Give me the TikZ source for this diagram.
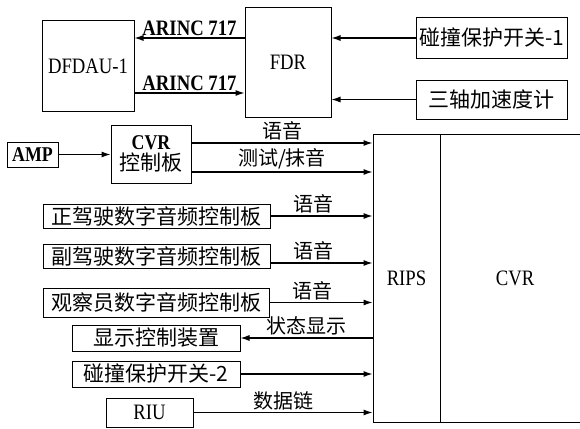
\documentclass[tikz,border=0pt]{standalone}
\usepackage{fontspec}
\setmainfont{Liberation Serif}[FakeStretch=0.85]
\newfontfamily\cjk{Noto Sans CJK SC}
\usetikzlibrary{arrows.meta,positioning}

\begin{document}
\begin{tikzpicture}[x=1pt, y=-1pt,
  box/.style={rectangle, draw, line width=1pt, inner sep=0pt, align=center, font=\fontsize{22}{23}\selectfont},
  cbox/.style={box, font=\cjk\fontsize{21}{23}\selectfont},
  arr/.style={-{Latex[length=9pt,width=6pt]}, line width=1.1pt},
  lbl/.style={font=\cjk\fontsize{20}{22}\selectfont, inner sep=1pt},
  alab/.style={font=\bfseries\fontsize{22}{23}\selectfont, inner sep=1pt},
]
\useasboundingbox (0,0) rectangle (580,428);

% Top part: FDR and its sources
\node[box, minimum width=92pt, minimum height=90pt] (dfdau) at (88,66) {DFDAU-1};
\node[box, minimum width=86pt, minimum height=109pt] (fdr) at (288,62.5) {FDR};
\node[cbox, minimum width=151pt, minimum height=40pt] (crash1) at (491.5,38) {碰撞保护开关-1};
\node[cbox, minimum width=151pt, minimum height=39pt] (accel) at (491.5,99.5) {三轴加速度计};

% Recorder
\node[box, minimum width=67pt, minimum height=288pt] (rips) at (406.5,278) {RIPS};
\node[box, minimum width=150pt, minimum height=288pt] (cvr) at (515,278) {CVR};

% Left column
\node[box, minimum width=51pt, minimum height=25pt, font=\bfseries\fontsize{21}{22}\selectfont] (amp) at (32.5,154.5) {AMP};
\node[box, minimum width=80pt, minimum height=58pt, font=\bfseries\fontsize{21}{21}\selectfont] (ctrl) at (151,154) {CVR\\{\cjk\mdseries\fontsize{21}{22}\selectfont 控制板}};
\node[cbox, minimum width=227pt, minimum height=24pt] (capt) at (156.5,216) {正驾驶数字音频控制板};
\node[cbox, minimum width=227pt, minimum height=24pt] (fo) at (156.5,256) {副驾驶数字音频控制板};
\node[cbox, minimum width=226pt, minimum height=29pt] (obs) at (156,302.5) {观察员数字音频控制板};
\node[cbox, minimum width=168pt, minimum height=26pt] (disp) at (156,338) {显示控制装置};
\node[cbox, minimum width=168pt, minimum height=26pt] (crash2) at (156,374) {碰撞保护开关-2};
\node[box, minimum width=87pt, minimum height=29pt] (riu) at (149.5,412.5) {RIU};

% ARINC links
\draw[arr] ([yshift=28pt]dfdau.east -| fdr.west) -- node[alab, above=1pt] {ARINC 717} ([yshift=28pt]dfdau.east);
\draw[arr] ([yshift=-27pt]dfdau.east) -- node[alab, above=1pt] {ARINC 717} ([yshift=-27pt]dfdau.east -| fdr.west);
\draw[arr] (crash1.west) -- (crash1.west -| fdr.east);
\draw[arr] (accel.west) -- (accel.west -| fdr.east);

% Inputs to RIPS
\draw[arr] (amp.east) -- (amp.east -| ctrl.west);
\draw[arr] ([yshift=11pt]ctrl.east) -- node[lbl, above=1pt] {语音} ([yshift=11pt]ctrl.east -| rips.west);
\draw[arr] ([yshift=-18pt]ctrl.east) -- node[lbl, above=1pt] {测试/抹音} ([yshift=-18pt]ctrl.east -| rips.west);
\draw[arr] (capt.east) -- node[lbl, above=1pt, pos=0.42] {语音} (capt.east -| rips.west);
\draw[arr] ([yshift=-7pt]fo.east) -- node[lbl, above=1pt, pos=0.42] {语音} ([yshift=-7pt]fo.east -| rips.west);
\draw[arr] (obs.east) -- node[lbl, above=1pt, pos=0.42] {语音} (obs.east -| rips.west);
\draw[arr] (disp.east -| rips.west) -- node[lbl, above=1pt] {状态显示} (disp.east);
\draw[arr] (crash2.east) -- (crash2.east -| rips.west);
\draw[arr] (riu.east) -- node[lbl, above=1pt] {数据链} (riu.east -| rips.west);
\end{tikzpicture}
\end{document}
